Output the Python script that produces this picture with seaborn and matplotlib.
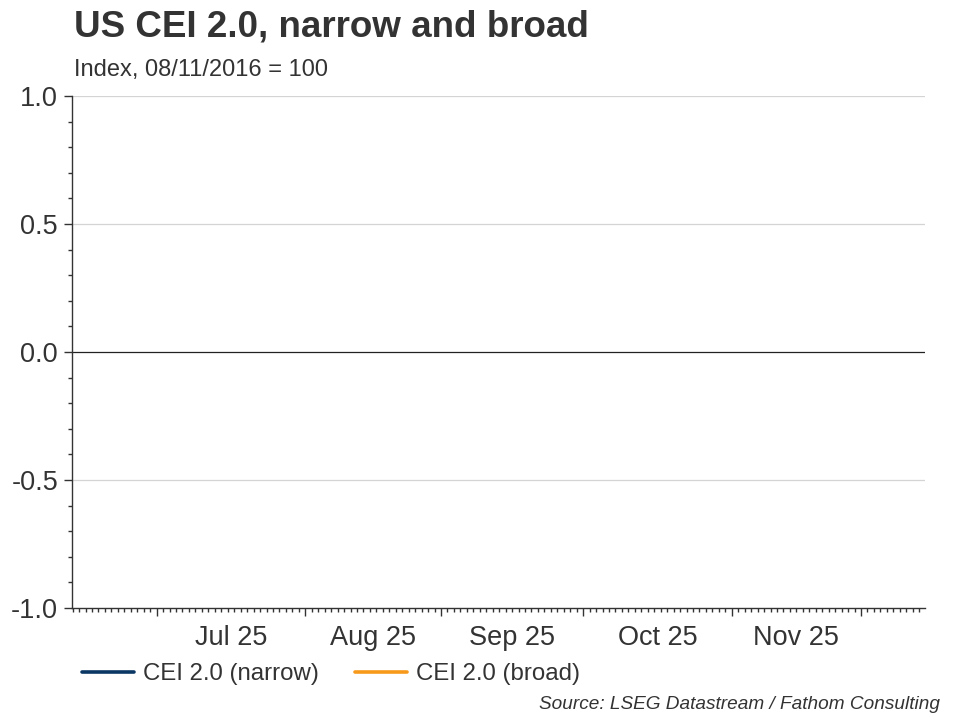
import numpy as np
import pandas as pd
import matplotlib
matplotlib.use("Agg")
import matplotlib.pyplot as plt
import seaborn as sns
from matplotlib.ticker import FixedLocator, MultipleLocator

sns.set_style("white")
plt.rcParams['font.family'] = ['Liberation Sans', 'DejaVu Sans']

# ============================
# Data (chart shows no observations in the window)
# ============================
date_start = "2025-06-12"
date_end = "2025-12-11"
month_starts = ["2025-07-01", "2025-08-01", "2025-09-01", "2025-10-01", "2025-11-01", "2025-12-01"]
month_labels = ["Jul 25", "Aug 25", "Sep 25", "Oct 25", "Nov 25"]
narrow_values = []
broad_values = []
series_names = ["CEI 2.0 (narrow)", "CEI 2.0 (broad)"]
series_colors = ["#0b3764", "#f79a1b"]
y_ticks = [-1.0, -0.5, 0.0, 0.5, 1.0]

text_col = "#333333"

# business-day axis
dates = pd.bdate_range(date_start, date_end)
month_idx = [dates.searchsorted(pd.Timestamp(m)) for m in month_starts]
label_idx = [(month_idx[i] + month_idx[i + 1]) / 2 for i in range(len(month_labels))]

fig = plt.figure(figsize=(9.6, 7.2), dpi=100)
ax = fig.add_axes([0.075, 0.1556, 0.8885, 0.7111])

for vals, name, col in zip([narrow_values, broad_values], series_names, series_colors):
    xs = list(range(len(vals)))
    ax.plot(xs, vals, color=col, lw=2.4, label=name)

ax.set_xlim(-0.1, len(dates) + 0.9)
ax.set_ylim(-1.0, 1.0)

# y axis
ax.set_yticks(y_ticks)
ax.set_yticklabels([f"{v:.1f}" for v in y_ticks])
ax.yaxis.set_minor_locator(MultipleLocator(0.1))
ax.tick_params(axis='y', which='major', length=6, width=1, color=text_col, direction='out',
               labelsize=19.5, labelcolor=text_col, pad=4, left=True)
ax.tick_params(axis='y', which='minor', length=3, width=1, color=text_col, direction='out', left=True)
for v in y_ticks:
    if v == 0:
        ax.axhline(0, color="#222222", lw=0.9, zorder=1)
    elif v != -1.0:
        ax.axhline(v, color="#d4d4d4", lw=0.9, zorder=0)

# x axis: daily minor ticks, month-start major ticks, labels mid-month
ax.xaxis.set_major_locator(FixedLocator(month_idx))
ax.xaxis.set_minor_locator(FixedLocator(list(range(len(dates) + 1))))
ax.tick_params(axis='x', which='major', length=6, width=1, color=text_col, labelbottom=False, bottom=True)
ax.tick_params(axis='x', which='minor', length=3, width=1, color=text_col, bottom=True)

sec = ax.secondary_xaxis('bottom')
sec.set_xticks(label_idx)
sec.set_xticklabels(month_labels)
sec.tick_params(length=0, pad=12, labelsize=19.5, labelcolor=text_col)
sec.spines['bottom'].set_visible(False)

for s in ['top', 'right']:
    ax.spines[s].set_visible(False)
for s in ['left', 'bottom']:
    ax.spines[s].set_color(text_col)
    ax.spines[s].set_linewidth(1)

# titles
fig.text(0.077, 0.962, "US CEI 2.0, narrow and broad", fontsize=26.5, fontweight='bold',
         color=text_col, va='center', ha='left')
fig.text(0.077, 0.903, "Index, 08/11/2016 = 100", fontsize=17, color=text_col, va='center', ha='left')

# legend
handles = [plt.Line2D([], [], color=c, lw=2.6) for c in series_colors]
fig.legend(handles, series_names, loc='center left', bbox_to_anchor=(0.0854, 0.064), ncol=2,
           frameon=False, fontsize=17.3, handlelength=2.17, handletextpad=0.37, columnspacing=1.5,
           borderpad=0, borderaxespad=0, labelcolor=text_col)

fig.text(0.979, 0.022, "Source: LSEG Datastream / Fathom Consulting", fontsize=13.7, style='italic',
         color=text_col, ha='right', va='center')

fig.savefig("out.png", dpi=100)
